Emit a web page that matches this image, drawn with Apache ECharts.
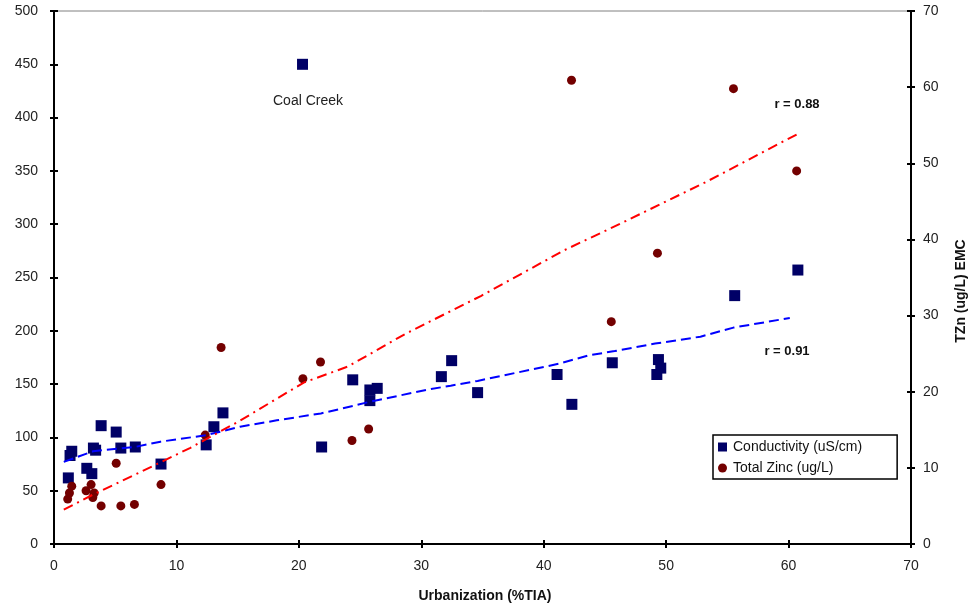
<!DOCTYPE html>
<html>
<head>
<meta charset="utf-8">
<script src="https://cdn.jsdelivr.net/npm/echarts@6/dist/echarts.min.js"></script>
<style>
  html, body { margin: 0; padding: 0; background: #fff; }
  #chart { width: 970px; height: 609px; }
</style>
</head>
<body>
<div id="chart"></div>
<script>
// Conductivity (uS/cm) by urbanization (%TIA)
const condUrban  = [1.17, 1.31, 1.45, 2.68, 3.09, 3.22, 3.40, 3.85, 5.08, 5.46, 6.64, 8.74, 12.43, 13.06, 13.80,
                    20.30, 21.86, 24.40, 25.80, 26.40, 25.80, 31.64, 32.48, 34.60, 41.09, 42.30, 45.60, 49.37, 49.56, 49.24, 55.60, 60.76];
const condValues = [62, 83, 87, 71, 66, 90, 88, 111, 105, 90, 91, 75, 93, 110, 123,
                    450, 91, 154, 144.5, 146, 134.5, 157, 172, 142, 159, 131, 170, 173, 165, 159, 233, 257];

// Total zinc (ug/L) by urbanization (%TIA)
const zincUrban  = [1.12, 1.26, 1.45, 2.62, 3.03, 3.28, 3.17, 3.85, 5.08, 5.46, 6.57, 8.74, 12.35, 13.65,
                    20.33, 21.77, 24.34, 25.70, 42.27, 45.52, 49.29, 55.50, 60.66];
const zincValues = [5.9, 6.7, 7.6, 7.0, 7.8, 6.7, 6.1, 5.0, 10.6, 5.0, 5.2, 7.8, 14.3, 25.8,
                    21.7, 23.9, 13.6, 15.1, 60.9, 29.2, 38.2, 59.8, 49.0];

// Fitted trend curves
const condFitX = [0.8, 3.2, 6.6, 8.7, 12.4, 15.2, 18.2, 21.8, 24.5, 25.8, 30.8, 32.4, 34.6, 41.2, 43.7, 45.8, 49.1, 52.8, 55.5, 60.1];
const condFitY = [77, 87, 91, 96, 102, 110, 116, 122.5, 129.7, 133.5, 145.4, 148.5, 153, 169, 177, 181, 188, 194.5, 203, 212];
const zincFitX = [0.8, 3.2, 7.0, 11.1, 15.2, 20.4, 24.0, 28.7, 34.9, 41.7, 46.3, 53.2, 60.8];
const zincFitY = [4.5, 6.5, 9.4, 12.6, 16.2, 21.2, 23.3, 27.6, 32.6, 38.6, 42.1, 47.5, 53.9];

// Axis ranges
const xTicks = { min: 0, max: 70, interval: 10 };
const leftTicks = { min: 0, max: 500, interval: 50 };
const rightTicks = { min: 0, max: 70, interval: 10 };

const FONT = '"Liberation Sans", Arial, sans-serif';
const zip = (xs, ys) => xs.map((x, i) => [x, ys[i]]);

const lineAxis = { show: true, onZero: false, lineStyle: { color: '#000', width: 2 } };
const labelStyle = { color: '#222', fontFamily: FONT, fontSize: 14 };

function valueAxis(range, extra) {
  return Object.assign({
    type: 'value',
    min: range.min, max: range.max, interval: range.interval,
    splitLine: { show: false },
    axisLine: lineAxis,
    axisTick: { show: true, inside: false, length: 4, lineStyle: { color: '#000', width: 2 } },
    axisLabel: Object.assign({}, labelStyle)
  }, extra);
}
// twin axes with inward ticks give the crossing tick marks
function tickTwin(range, extra) {
  return valueAxis(range, Object.assign({
    axisTick: { show: true, inside: true, length: 4, lineStyle: { color: '#000', width: 2 } },
    axisLabel: { show: false }
  }, extra));
}

const chart = echarts.init(document.getElementById('chart'), null, { renderer: 'canvas' });

chart.setOption({
  backgroundColor: '#fff',
  animation: false,
  grid: {
    left: 54, right: 59, top: 11, bottom: 65,
    show: true, borderColor: '#808080', borderWidth: 1,
    containLabel: false, outerBoundsMode: 'none'
  },
  xAxis: [
    valueAxis(xTicks, { position: 'bottom', axisLabel: Object.assign({ margin: 15 }, labelStyle) }),
    tickTwin(xTicks, { position: 'bottom' })
  ],
  yAxis: [
    valueAxis(leftTicks, { position: 'left', axisLabel: Object.assign({ margin: 16 }, labelStyle) }),
    valueAxis(rightTicks, { position: 'right', axisLabel: Object.assign({ margin: 12 }, labelStyle) }),
    tickTwin(leftTicks, { position: 'left' }),
    tickTwin(rightTicks, { position: 'right' })
  ],
  legend: {
    left: 713, top: 435,
    orient: 'vertical',
    backgroundColor: '#fff',
    borderColor: '#000', borderWidth: 1.5,
    padding: [5, 35, 4, 5],
    itemGap: 7,
    itemWidth: 9, itemHeight: 9,
    textStyle: { color: '#111', fontFamily: FONT, fontSize: 14, padding: [0, 0, 0, 1] },
    data: [
      { name: 'Conductivity (uS/cm)', icon: 'rect' },
      { name: 'Total Zinc (ug/L)', icon: 'circle' }
    ]
  },
  series: [
    {
      name: 'Conductivity (uS/cm)',
      type: 'scatter',
      xAxisIndex: 0, yAxisIndex: 0,
      symbol: 'rect', symbolSize: 11,
      itemStyle: { color: '#000066', opacity: 1 },
      data: zip(condUrban, condValues),
      z: 3
    },
    {
      name: 'Total Zinc (ug/L)',
      type: 'scatter',
      xAxisIndex: 0, yAxisIndex: 1,
      symbol: 'circle', symbolSize: 9,
      itemStyle: { color: '#730000', opacity: 1 },
      data: zip(zincUrban, zincValues),
      z: 3
    },
    {
      name: 'Conductivity trend',
      type: 'line',
      xAxisIndex: 0, yAxisIndex: 0,
      showSymbol: false, symbol: 'none',
      lineStyle: { color: '#0000ff', width: 2, type: [10, 5] },
      data: zip(condFitX, condFitY),
      z: 4
    },
    {
      name: 'Zinc trend',
      type: 'line',
      xAxisIndex: 0, yAxisIndex: 1,
      showSymbol: false, symbol: 'none',
      lineStyle: { color: '#ff0000', width: 2, type: [10, 5, 2, 5] },
      data: zip(zincFitX, zincFitY),
      z: 4
    }
  ],
  graphic: [
    { type: 'text', left: 'center', top: 589,
      style: { text: 'Urbanization (%TIA)', fontFamily: FONT, fontSize: 14, fontWeight: 'bold', fill: '#111' } },
    { type: 'text', x: 961, y: 291, rotation: Math.PI / 2,
      style: { text: 'TZn (ug/L) EMC', fontFamily: FONT, fontSize: 14, fontWeight: 'bold', fill: '#111',
               align: 'center', verticalAlign: 'middle' } },
    { type: 'text', x: 308, y: 101,
      style: { text: 'Coal Creek', fontFamily: FONT, fontSize: 14, fill: '#222', align: 'center', verticalAlign: 'middle' } },
    { type: 'text', x: 797, y: 104,
      style: { text: 'r = 0.88', fontFamily: FONT, fontSize: 13, fontWeight: 'bold', fill: '#111', align: 'center', verticalAlign: 'middle' } },
    { type: 'text', x: 787, y: 351,
      style: { text: 'r = 0.91', fontFamily: FONT, fontSize: 13, fontWeight: 'bold', fill: '#111', align: 'center', verticalAlign: 'middle' } }
  ]
});
</script>
</body>
</html>
